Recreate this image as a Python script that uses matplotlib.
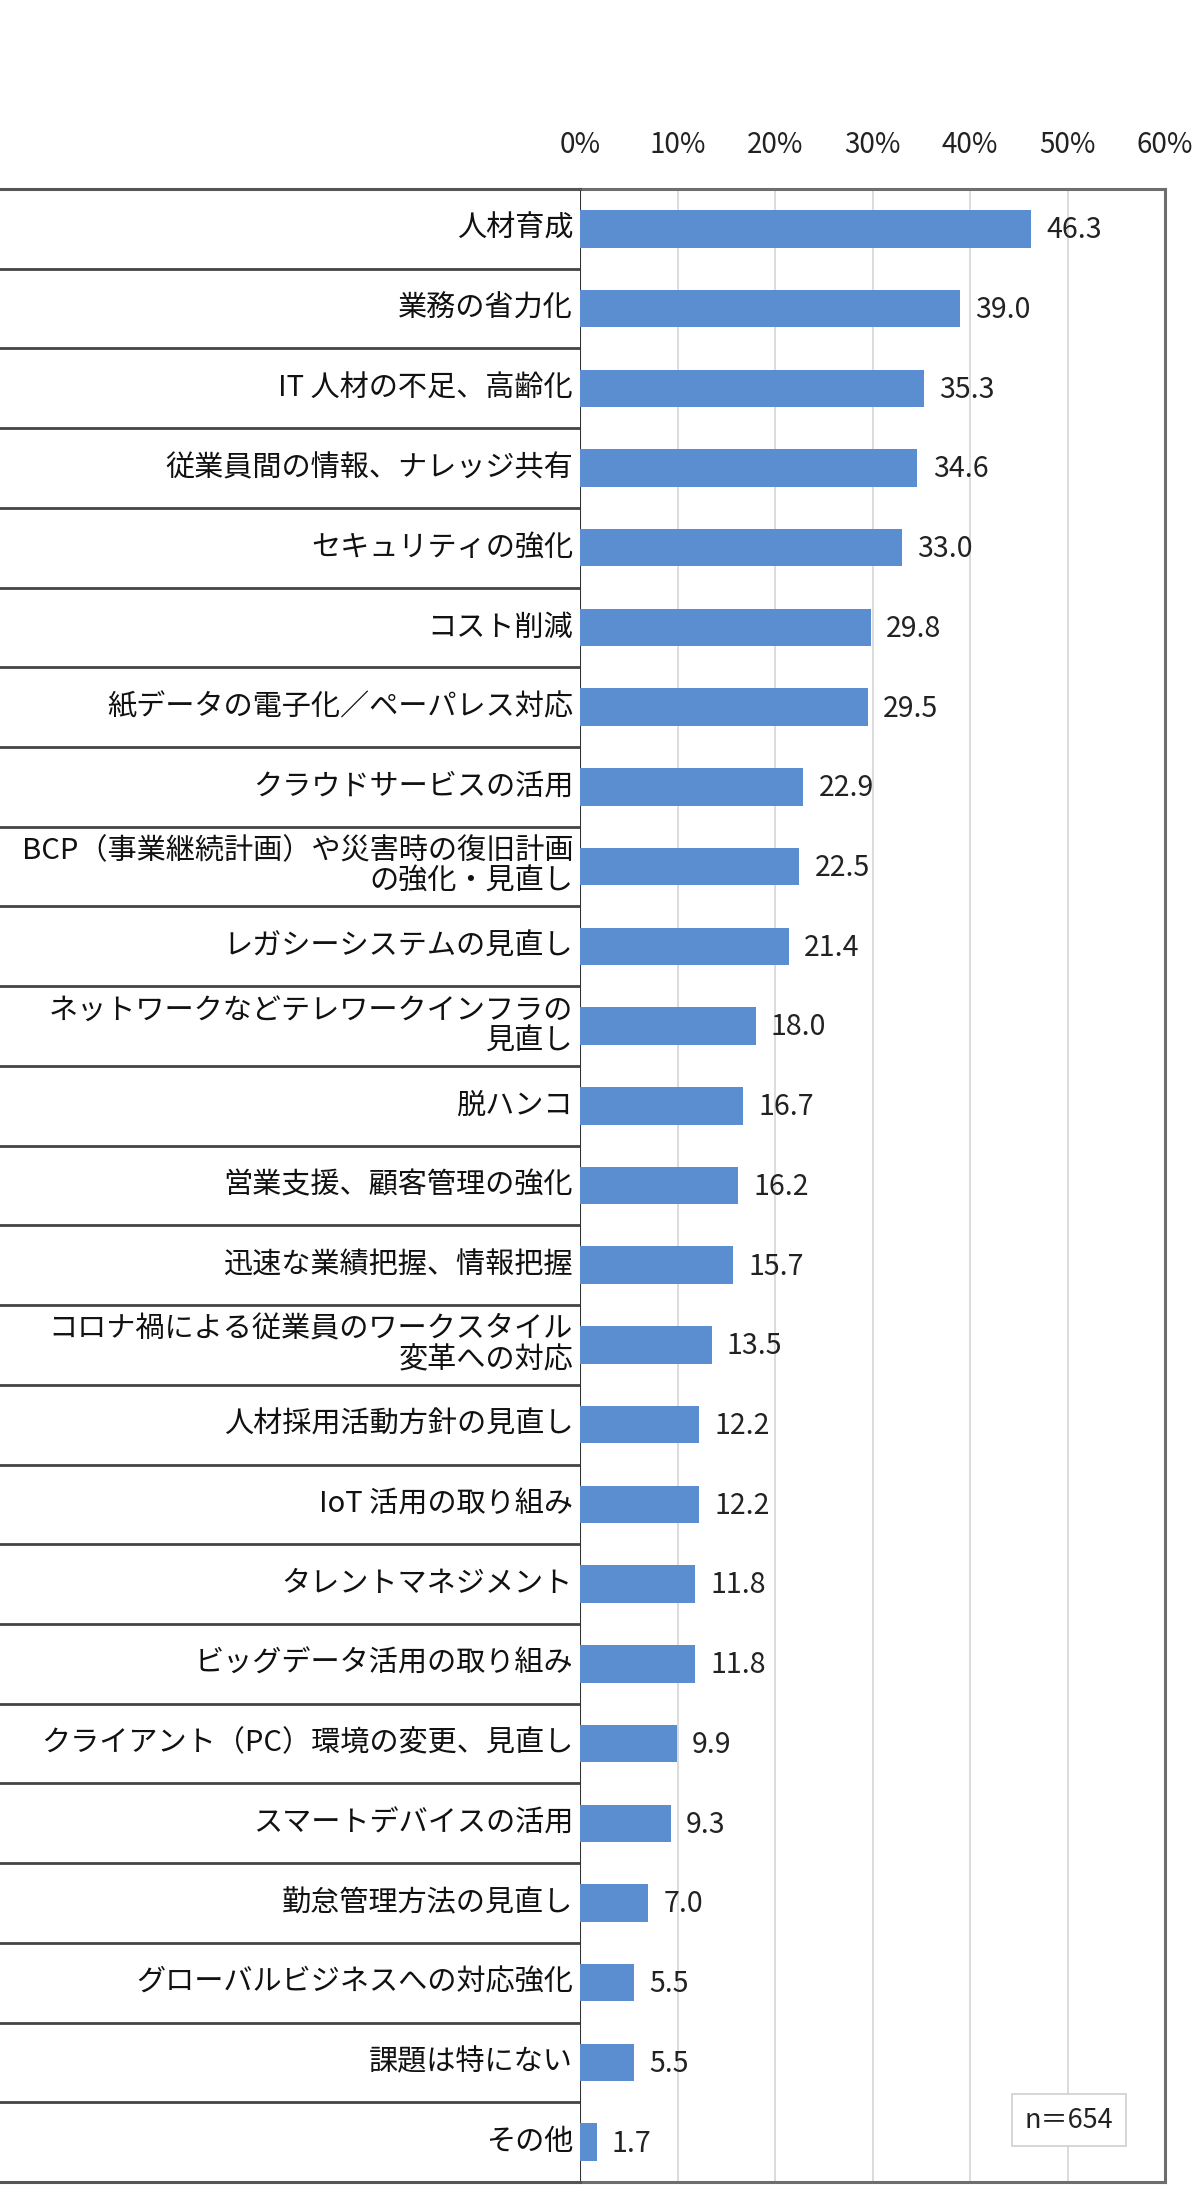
import matplotlib
matplotlib.use("Agg")
import matplotlib.pyplot as plt
from matplotlib.patches import Rectangle

plt.rcParams['font.family'] = ['Noto Sans CJK JP', 'DejaVu Sans']

categories = ["人材育成", "業務の省力化", "IT 人材の不足、高齢化", "従業員間の情報、ナレッジ共有",
              "セキュリティの強化", "コスト削減", "紙データの電子化／ペーパレス対応", "クラウドサービスの活用",
              "BCP（事業継続計画）や災害時の復旧計画\nの強化・見直し", "レガシーシステムの見直し",
              "ネットワークなどテレワークインフラの\n見直し", "脱ハンコ", "営業支援、顧客管理の強化",
              "迅速な業績把握、情報把握", "コロナ禍による従業員のワークスタイル\n変革への対応",
              "人材採用活動方針の見直し", "IoT 活用の取り組み", "タレントマネジメント",
              "ビッグデータ活用の取り組み", "クライアント（PC）環境の変更、見直し", "スマートデバイスの活用",
              "勤怠管理方法の見直し", "グローバルビジネスへの対応強化", "課題は特にない", "その他"]
values = [46.3, 39.0, 35.3, 34.6, 33.0, 29.8, 29.5, 22.9, 22.5, 21.4, 18.0, 16.7, 16.2, 15.7,
          13.5, 12.2, 12.2, 11.8, 11.8, 9.9, 9.3, 7.0, 5.5, 5.5, 1.7]
xticks = [0, 10, 20, 30, 40, 50, 60]
xtick_labels = ["0%", "10%", "20%", "30%", "40%", "50%", "60%"]
note = "n＝654"

W, H = 1200, 2210
fig = plt.figure(figsize=(W / 100, H / 100), dpi=100)
fig.patch.set_facecolor("white")

x_axis, x_right = 580, 1165
y_top, y_bot = 189, 2182
n = len(categories)

ax = fig.add_axes([x_axis / W, 1 - y_bot / H, (x_right - x_axis) / W, (y_bot - y_top) / H])
axl = fig.add_axes([0, 1 - y_bot / H, x_axis / W, (y_bot - y_top) / H])

ys = list(range(n))
ax.barh(ys, values, height=0.47, color="#5A8ED0", zorder=3)
ax.set_xlim(0, 60)
ax.set_ylim(n - 0.5, -0.5)
ax.set_yticks([])
ax.set_xticks(xticks)
ax.set_xticklabels(xtick_labels, fontsize=20, color="#222222")
ax.xaxis.tick_top()
ax.tick_params(axis="x", length=0, pad=21)
ax.grid(axis="x", color="#d9d9d9", linewidth=1.3, zorder=0)
for s in ["top", "right", "bottom"]:
    ax.spines[s].set_color("#6e6e6e")
    ax.spines[s].set_linewidth(2.2)
ax.spines["left"].set_color("#333333")
ax.spines["left"].set_linewidth(1.5)

for y, v in zip(ys, values):
    ax.annotate(f"{v:.1f}", xy=(v, y), xytext=(11, -1), textcoords="offset points",
                ha="left", va="center", fontsize=20.5, color="#222222", zorder=4)

axl.set_xlim(0, 1)
axl.set_ylim(n - 0.5, -0.5)
axl.set_xticks([])
axl.set_yticks([])
for s in ["left", "right"]:
    axl.spines[s].set_visible(False)
for s in ["top", "bottom"]:
    axl.spines[s].set_color("#555555")
    axl.spines[s].set_linewidth(2.2)
for k in range(1, n):
    axl.axhline(k - 0.5, color="#444444", linewidth=2.0)
for y, c in zip(ys, categories):
    axl.text(0.988, y, c, ha="right", va="center", fontsize=21, color="#111111",
             multialignment="right", linespacing=1.02)

fig.patches.append(Rectangle((1012 / W, 1 - 2146 / H), 114 / W, 52 / H, transform=fig.transFigure,
                             facecolor="white", edgecolor="#cfcfcf", linewidth=1.2, zorder=5))
fig.text(1069 / W, 1 - 2120 / H, note, ha="center", va="center", fontsize=19.5, color="#222222", zorder=6)

fig.savefig("out.png", dpi=100, facecolor="white")
